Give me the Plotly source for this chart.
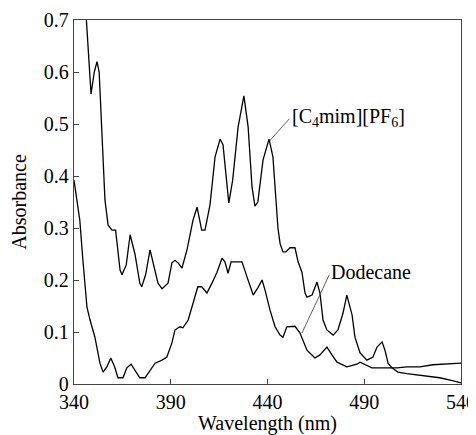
import plotly.graph_objects as go

# [C4mim][PF6] spectrum
il_wl = [345.8, 346.4, 348.8, 350.5, 351.9, 353.0, 356.0, 357.6, 359.6, 361.5, 363.8, 364.8, 367.0, 369.0,
         371.5, 374.0, 375.0, 377.0, 379.3, 381.5, 383.4, 385.5, 388.6, 390.6, 392.2, 394.0, 395.8,
         398.4, 401.5, 403.6, 406.0, 407.7, 410.3, 412.9, 415.5, 417.0, 419.6, 420.0, 422.0, 424.8,
         427.8, 430.0, 432.0, 433.5, 435.0, 437.7, 440.8, 442.8, 445.4, 446.5, 448.0, 449.5, 451.6,
         454.2, 455.8, 457.8, 459.4, 460.4, 463.0, 465.6, 467.1, 468.7, 470.7, 473.9, 476.4, 479.0,
         481.0, 483.7, 485.2, 487.8, 491.4, 494.5, 496.6, 499.2, 500.7, 502.3, 504.3, 507.4, 512.0,
         518.8, 524.0, 529.0, 535.0, 540.0]
il_abs = [0.76, 0.70, 0.558, 0.60, 0.62, 0.60, 0.354, 0.306, 0.296, 0.296, 0.219, 0.21, 0.229, 0.287,
          0.25, 0.194, 0.187, 0.21, 0.258, 0.225, 0.194, 0.183, 0.194, 0.233, 0.238, 0.232, 0.223,
          0.258, 0.315, 0.34, 0.296, 0.296, 0.345, 0.437, 0.471, 0.46, 0.354, 0.348, 0.392, 0.494,
          0.554, 0.494, 0.379, 0.342, 0.35, 0.431, 0.471, 0.437, 0.30, 0.27, 0.254, 0.254, 0.262,
          0.262, 0.235, 0.215, 0.175, 0.167, 0.171, 0.196, 0.175, 0.123, 0.104, 0.094, 0.104, 0.136,
          0.171, 0.133, 0.09, 0.06, 0.046, 0.052, 0.071, 0.081, 0.065, 0.04, 0.031, 0.023, 0.02,
          0.017, 0.014, 0.012, 0.007, 0.002]

# Dodecane spectrum
dd_wl = [340.0, 341.5, 343.0, 344.6, 346.7, 348.3, 350.8, 353.4, 355.0, 357.0, 359.0, 361.0, 362.7,
         365.3, 367.3, 369.5, 371.5, 374.0, 376.7, 379.3, 381.9, 385.5, 388.0, 390.6, 392.2, 394.8,
         396.3, 399.0, 401.5, 404.0, 406.0, 408.7, 411.3, 413.9, 416.5, 418.0, 419.6, 421.2, 424.2,
         426.8, 429.4, 432.6, 435.0, 437.2, 438.7, 441.3, 443.9, 446.5, 448.0, 450.0, 454.2, 456.8,
         460.4, 464.5, 467.1, 470.7, 473.3, 475.9, 481.0, 486.2, 487.8, 490.4, 494.0, 501.8, 507.0,
         512.0, 518.8, 525.5, 532.8, 539.5, 540.0]
dd_abs = [0.392, 0.354, 0.315, 0.238, 0.148, 0.123, 0.09, 0.04, 0.023, 0.033, 0.05, 0.033, 0.012,
          0.012, 0.031, 0.038, 0.027, 0.012, 0.012, 0.027, 0.04, 0.046, 0.052, 0.079, 0.104, 0.11,
          0.108, 0.123, 0.156, 0.187, 0.187, 0.175, 0.194, 0.215, 0.242, 0.235, 0.213, 0.235, 0.235,
          0.235, 0.206, 0.171, 0.185, 0.2, 0.181, 0.142, 0.11, 0.094, 0.09, 0.11, 0.111, 0.098,
          0.065, 0.05, 0.056, 0.071, 0.056, 0.042, 0.033, 0.038, 0.042, 0.037, 0.031, 0.031, 0.031,
          0.033, 0.033, 0.037, 0.038, 0.04, 0.04]

x_ticks = [340, 390, 440, 490, 540]
y_ticks = [0, 0.1, 0.2, 0.3, 0.4, 0.5, 0.6, 0.7]

serif = "Liberation Serif, Times New Roman, serif"
fsize = 20

fig = go.Figure()
fig.add_trace(go.Scatter(x=il_wl, y=il_abs, mode="lines",
                         line=dict(color="black", width=1.3), name="[C4mim][PF6]"))
fig.add_trace(go.Scatter(x=dd_wl, y=dd_abs, mode="lines",
                         line=dict(color="black", width=1.3), name="Dodecane"))

# labels with leader lines
fig.add_annotation(x=440.5, y=0.465, ax=452, ay=0.513, axref="x", ayref="y",
                   showarrow=True, arrowhead=0, arrowwidth=0.8, arrowcolor="#333", text="")
fig.add_annotation(x=451.5, y=0.513, xanchor="left", yanchor="middle", showarrow=False,
                   text="[C<sub>4</sub>mim][PF<sub>6</sub>]", font=dict(family=serif, size=fsize, color="black"))
fig.add_annotation(x=457.8, y=0.098, ax=472.3, ay=0.213, axref="x", ayref="y",
                   showarrow=True, arrowhead=0, arrowwidth=0.8, arrowcolor="#333", text="")
fig.add_annotation(x=471.8, y=0.215, xanchor="left", yanchor="middle", showarrow=False,
                   text="Dodecane", font=dict(family=serif, size=fsize, color="black"))

axis_common = dict(showline=True, linecolor="#444", linewidth=1.3, mirror=True,
                   ticks="inside", ticklen=5, tickcolor="#444", showgrid=False, zeroline=False,
                   automargin=False, tickfont=dict(family=serif, size=fsize, color="black"))

fig.update_xaxes(range=[340, 540], tickvals=x_ticks, ticktext=[str(v) for v in x_ticks],
                 title=dict(text="Wavelength (nm)", font=dict(family=serif, size=fsize, color="black"),
                            standoff=7), **axis_common)
fig.update_yaxes(range=[0, 0.7], tickvals=y_ticks, ticktext=[f"{v:g}" for v in y_ticks],
                 title=dict(text="Absorbance", font=dict(family=serif, size=fsize, color="black"),
                            standoff=16), **axis_common)

# page body adds an 8px offset, so the figure is sized to fit the window
fig.update_layout(width=468, height=427, showlegend=False,
                  margin=dict(l=66, r=15, t=12, b=51),
                  plot_bgcolor="white", paper_bgcolor="white")

fig.write_html("out.html")
